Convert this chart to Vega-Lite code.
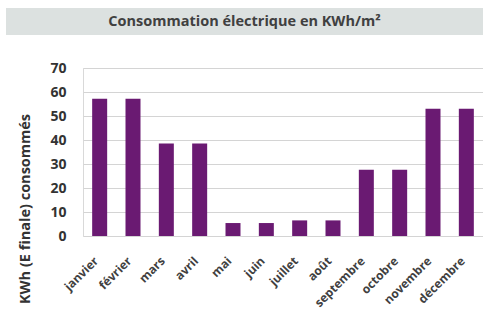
{
  "$schema": "https://vega.github.io/schema/vega-lite/v6.json",
  "padding": {"left": 6, "top": 8, "right": 0, "bottom": 30},
  "background": "white",
  "config": {"font": "Open Sans", "concat": {"spacing": 25}},
  "datasets": {
    "conso": [
      {"mois": "janvier", "kwh": 57.2},
      {"mois": "février", "kwh": 57.2},
      {"mois": "mars", "kwh": 38.5},
      {"mois": "avril", "kwh": 38.5},
      {"mois": "mai", "kwh": 5.4},
      {"mois": "juin", "kwh": 5.4},
      {"mois": "juillet", "kwh": 6.5},
      {"mois": "août", "kwh": 6.5},
      {"mois": "septembre", "kwh": 27.6},
      {"mois": "octobre", "kwh": 27.6},
      {"mois": "novembre", "kwh": 53},
      {"mois": "décembre", "kwh": 53}
    ]
  },
  "vconcat": [
    {
      "width": 477,
      "height": 27,
      "view": {"fill": "#dce1e0", "stroke": null},
      "data": {"values": [{"t": "Consommation électrique en KWh/m²"}]},
      "mark": {"type": "text", "fontWeight": "bold", "fontSize": 14.5, "color": "#404040"},
      "encoding": {"text": {"field": "t"}}
    },
    {
      "spacing": 4,
      "hconcat": [
        {
          "width": 39,
          "height": 168,
          "view": {"stroke": null},
          "data": {"values": [{"t": "KWh (E finale) consommés"}]},
          "mark": {"type": "text", "angle": 270, "dx": -57, "fontWeight": "bold", "fontSize": 14.5, "color": "#333333"},
          "encoding": {"text": {"field": "t"}}
        },
        {
          "width": 400,
          "height": 168,
          "view": {"stroke": "#d9d9d9"},
          "data": {"name": "conso"},
          "mark": {"type": "bar", "color": "#6a1a72"},
          "encoding": {
            "x": {
              "field": "mois", "type": "nominal", "sort": null,
              "scale": {"paddingInner": 0.55, "paddingOuter": 0.275},
              "axis": {"title": null, "labelAngle": -45, "labelAlign": "right", "labelBaseline": "top",
                       "labelFontSize": 12, "labelFontWeight": "bold", "labelColor": "#404040",
                       "ticks": false, "domain": false, "labelPadding": 19, "labelOffset": -7}
            },
            "y": {
              "field": "kwh", "type": "quantitative",
              "scale": {"domain": [0, 70]},
              "axis": {"title": null, "values": [0,10,20,30,40,50,60,70],
                       "labelFontSize": 14, "labelFontWeight": "bold", "labelColor": "#333333",
                       "labelPadding": 17, "ticks": false, "domain": false,
                       "gridColor": "#d4d4d4", "gridWidth": 1}
            }
          }
        }
      ]
    }
  ]
}
